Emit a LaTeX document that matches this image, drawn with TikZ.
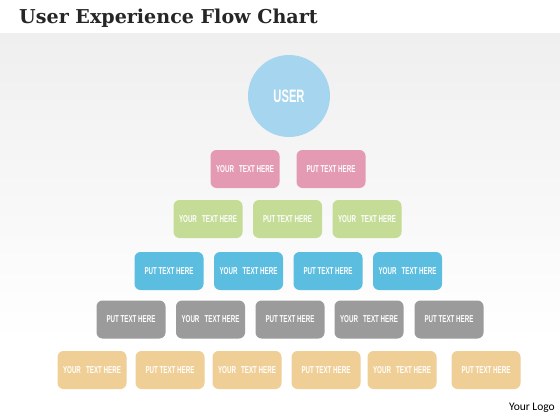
\documentclass[tikz,border=0pt]{standalone}
\usepackage{fontspec}
\setmainfont{Liberation Sans}
\newfontfamily\titlefont{DejaVu Serif}
\newfontfamily\boxfont[FakeStretch=0.62]{Liberation Sans}
\newfontfamily\logofont{Carlito}

\definecolor{userblue}{RGB}{166,213,240}
\definecolor{pinkbox}{RGB}{228,154,178}
\definecolor{greenbox}{RGB}{197,220,150}
\definecolor{bluebox}{RGB}{91,189,224}
\definecolor{graybox}{RGB}{155,155,155}
\definecolor{orangebox}{RGB}{240,207,150}
\definecolor{bgtop}{RGB}{239,239,239}

\tikzset{
 tbox/.style={rounded corners=6pt, minimum width=69pt, minimum height=38pt,
   inner sep=0pt, text=white, font=\boxfont\bfseries\fontsize{10}{10}\selectfont},
}

\begin{document}
\begin{tikzpicture}[x=1pt,y=-1pt]
 \useasboundingbox (0,0) rectangle (560,420);
 \fill[white] (0,0) rectangle (560,34);
 \shade[top color=bgtop, bottom color=white] (0,34) rectangle (560,340);
 \fill[white] (0,340) rectangle (560,420);
 %
 \node[anchor=base west, font=\titlefont\bfseries\fontsize{19.1}{19}\selectfont,
   text=black!85, inner sep=0pt] (title) at (19,24) {User Experience Flow Chart};
 %
 \node[circle, fill=userblue, minimum size=82pt, inner sep=0pt, text=white,
   font=\boxfont\bfseries\fontsize{18}{18}\selectfont] (user) at (289,96) {USER};
 %
 \node[tbox, fill=pinkbox] (p1) at (245,169) {YOUR\ \ \ TEXT HERE};
 \node[tbox, fill=pinkbox] (p2) at (331,169) {PUT TEXT HERE};
 %
 \node[tbox, fill=greenbox] (g1) at (208,219) {YOUR\ \ \ TEXT HERE};
 \node[tbox, fill=greenbox] (g2) at (287.5,219) {PUT TEXT HERE};
 \node[tbox, fill=greenbox] (g3) at (367,219) {YOUR\ \ \ TEXT HERE};
 %
 \node[tbox, fill=bluebox] (b1) at (169,271) {PUT TEXT HERE};
 \node[tbox, fill=bluebox] (b2) at (248.5,271) {YOUR\ \ \ TEXT HERE};
 \node[tbox, fill=bluebox] (b3) at (328,271) {PUT TEXT HERE};
 \node[tbox, fill=bluebox] (b4) at (407.5,271) {YOUR\ \ \ TEXT HERE};
 %
 \node[tbox, fill=graybox] (k1) at (131,319.5) {PUT TEXT HERE};
 \node[tbox, fill=graybox] (k2) at (210.5,319.5) {YOUR\ \ \ TEXT HERE};
 \node[tbox, fill=graybox] (k3) at (290,319.5) {PUT TEXT HERE};
 \node[tbox, fill=graybox] (k4) at (369,319.5) {YOUR\ \ \ TEXT HERE};
 \node[tbox, fill=graybox] (k5) at (449,319.5) {PUT TEXT HERE};
 %
 \node[tbox, fill=orangebox] (o1) at (92,370) {YOUR\ \ \ TEXT HERE};
 \node[tbox, fill=orangebox] (o2) at (170,370) {PUT TEXT HERE};
 \node[tbox, fill=orangebox] (o3) at (247,370) {YOUR\ \ \ TEXT HERE};
 \node[tbox, fill=orangebox] (o4) at (326,370) {PUT TEXT HERE};
 \node[tbox, fill=orangebox] (o5) at (402,370) {YOUR\ \ \ TEXT HERE};
 \node[tbox, fill=orangebox] (o6) at (486,370) {PUT TEXT HERE};
 %
 \node[anchor=east, font=\logofont\fontsize{11.5}{11}\selectfont, inner sep=0pt]
   (logo) at (555,408) {Your Logo};
\end{tikzpicture}
\end{document}
